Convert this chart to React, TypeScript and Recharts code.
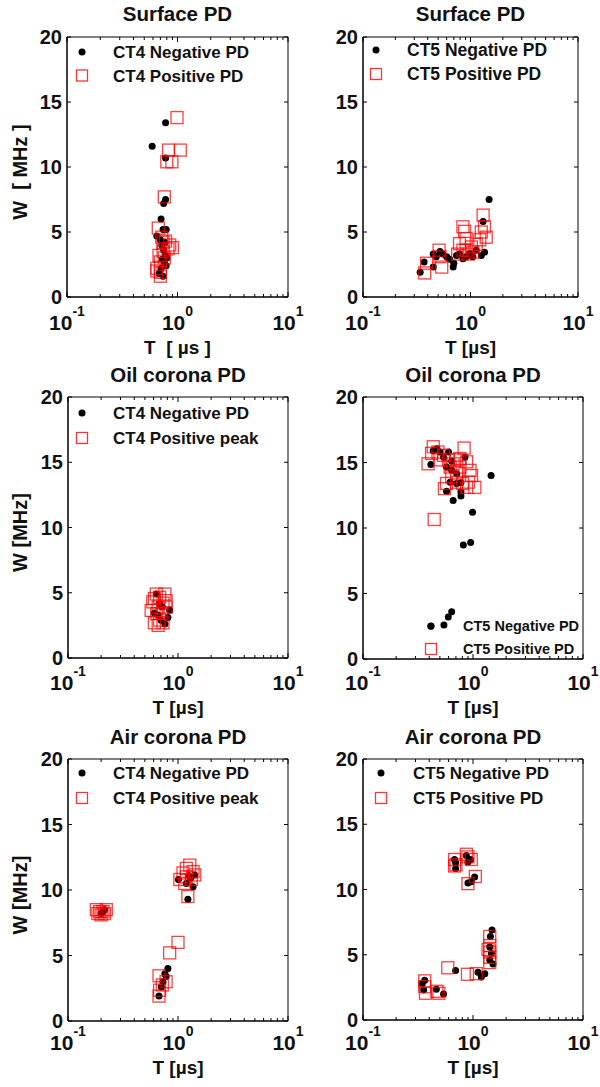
import React from 'react';
import { ScatterChart, Scatter, XAxis, YAxis, ReferenceArea, Legend } from 'recharts';

type Pt = { t: number; w: number };

// --- Surface PD ---
const ct4SurfaceNeg: Pt[] = [
  { t: 0.59, w: 11.6 }, { t: 0.78, w: 13.4 }, { t: 0.78, w: 10.7 }, { t: 0.78, w: 7.5 },
  { t: 0.75, w: 7.2 }, { t: 0.71, w: 6.0 }, { t: 0.74, w: 5.2 }, { t: 0.79, w: 5.2 },
  { t: 0.65, w: 4.7 }, { t: 0.7, w: 4.4 }, { t: 0.77, w: 4.2 }, { t: 0.72, w: 4.0 },
  { t: 0.75, w: 3.6 }, { t: 0.78, w: 3.2 }, { t: 0.8, w: 3.0 }, { t: 0.73, w: 2.9 },
  { t: 0.76, w: 2.6 }, { t: 0.79, w: 2.4 }, { t: 0.71, w: 2.2 }, { t: 0.68, w: 1.8 },
  { t: 0.74, w: 1.6 },
];
const ct4SurfacePos: Pt[] = [
  { t: 0.99, w: 13.8 }, { t: 0.83, w: 11.3 }, { t: 1.06, w: 11.3 }, { t: 0.8, w: 10.4 },
  { t: 0.89, w: 10.4 }, { t: 0.76, w: 7.7 }, { t: 0.67, w: 5.3 }, { t: 0.72, w: 4.6 },
  { t: 0.74, w: 4.2 }, { t: 0.78, w: 4.3 }, { t: 0.85, w: 4.0 }, { t: 0.9, w: 3.8 },
  { t: 0.82, w: 3.7 }, { t: 0.74, w: 3.5 }, { t: 0.68, w: 3.2 }, { t: 0.76, w: 3.0 },
  { t: 0.7, w: 2.7 }, { t: 0.65, w: 2.2 }, { t: 0.65, w: 2.0 }, { t: 0.7, w: 1.9 },
  { t: 0.7, w: 1.6 },
];
const ct5SurfaceNeg: Pt[] = [
  { t: 0.34, w: 1.9 }, { t: 0.37, w: 2.7 }, { t: 0.45, w: 2.3 }, { t: 0.45, w: 3.3 },
  { t: 0.48, w: 3.1 }, { t: 0.52, w: 3.5 }, { t: 0.55, w: 3.3 }, { t: 0.6, w: 3.1 },
  { t: 0.64, w: 2.9 }, { t: 0.69, w: 2.3 }, { t: 0.7, w: 2.6 }, { t: 0.74, w: 3.2 },
  { t: 0.79, w: 3.3 }, { t: 0.85, w: 2.95 }, { t: 0.91, w: 3.1 }, { t: 0.98, w: 3.35 },
  { t: 1.05, w: 3.1 }, { t: 1.13, w: 3.6 }, { t: 1.26, w: 3.2 }, { t: 1.35, w: 3.45 },
  { t: 1.31, w: 5.8 }, { t: 1.49, w: 7.5 },
];
const ct5SurfacePos: Pt[] = [
  { t: 0.375, w: 1.85 }, { t: 0.39, w: 2.6 }, { t: 0.51, w: 3.6 }, { t: 0.52, w: 3.1 },
  { t: 0.54, w: 2.3 }, { t: 0.76, w: 3.3 }, { t: 0.79, w: 4.1 }, { t: 0.85, w: 5.4 },
  { t: 0.88, w: 5.05 }, { t: 0.85, w: 3.6 }, { t: 0.91, w: 4.5 }, { t: 0.91, w: 3.6 },
  { t: 0.95, w: 3.3 }, { t: 1.02, w: 3.85 }, { t: 1.05, w: 3.45 }, { t: 1.13, w: 4.05 },
  { t: 1.22, w: 4.4 }, { t: 1.26, w: 5.0 }, { t: 1.35, w: 5.4 }, { t: 1.4, w: 4.6 },
  { t: 1.31, w: 6.3 },
];

// --- Oil corona PD ---
const ct4OilNeg: Pt[] = [
  { t: 0.81, w: 3.1 }, { t: 0.84, w: 3.65 }, { t: 0.66, w: 3.3 }, { t: 0.68, w: 4.15 },
  { t: 0.635, w: 4.9 }, { t: 0.61, w: 3.45 }, { t: 0.76, w: 2.6 }, { t: 0.72, w: 3.9 },
  { t: 0.7, w: 2.9 },
];
const ct4OilPos: Pt[] = [
  { t: 0.635, w: 4.9 }, { t: 0.68, w: 4.65 }, { t: 0.59, w: 4.3 }, { t: 0.57, w: 3.65 },
  { t: 0.73, w: 4.2 }, { t: 0.78, w: 3.9 }, { t: 0.64, w: 3.4 }, { t: 0.68, w: 2.9 },
  { t: 0.66, w: 2.5 }, { t: 0.61, w: 2.7 }, { t: 0.73, w: 2.7 }, { t: 0.71, w: 3.4 },
  { t: 0.66, w: 3.9 }, { t: 0.61, w: 4.55 }, { t: 0.76, w: 4.9 }, { t: 0.78, w: 4.4 },
];
const ct5OilNeg: Pt[] = [
  { t: 0.414, w: 2.5 }, { t: 0.544, w: 2.6 }, { t: 0.596, w: 3.2 }, { t: 0.64, w: 3.6 },
  { t: 0.817, w: 8.7 }, { t: 0.952, w: 8.9 }, { t: 0.99, w: 11.2 }, { t: 0.66, w: 12.1 },
  { t: 1.46, w: 14.0 }, { t: 0.414, w: 14.85 }, { t: 0.575, w: 12.8 }, { t: 0.777, w: 12.45 },
  { t: 0.777, w: 12.75 }, { t: 0.777, w: 13.45 }, { t: 0.435, w: 15.9 }, { t: 0.47, w: 16.05 },
  { t: 0.5, w: 15.8 }, { t: 0.6, w: 15.8 }, { t: 0.54, w: 15.4 }, { t: 0.575, w: 14.65 },
  { t: 0.64, w: 14.4 }, { t: 0.71, w: 14.15 }, { t: 0.845, w: 15.4 }, { t: 0.64, w: 15.1 },
  { t: 0.71, w: 13.4 }, { t: 0.62, w: 13.5 },
];
const ct5OilPos: Pt[] = [
  { t: 0.444, w: 10.65 }, { t: 0.39, w: 14.9 }, { t: 0.42, w: 15.7 }, { t: 0.435, w: 16.2 },
  { t: 0.48, w: 15.8 }, { t: 0.54, w: 15.55 }, { t: 0.6, w: 15.2 }, { t: 0.62, w: 14.65 },
  { t: 0.66, w: 14.9 }, { t: 0.71, w: 15.2 }, { t: 0.83, w: 16.1 }, { t: 0.76, w: 14.65 },
  { t: 0.875, w: 15.05 }, { t: 0.94, w: 14.4 }, { t: 0.97, w: 14.0 }, { t: 0.91, w: 13.5 },
  { t: 1.04, w: 13.1 }, { t: 0.875, w: 13.1 }, { t: 0.71, w: 13.5 }, { t: 0.575, w: 13.4 },
  { t: 0.55, w: 13.0 }, { t: 0.64, w: 13.9 }, { t: 0.76, w: 15.3 }, { t: 0.5, w: 15.2 },
  { t: 0.71, w: 14.2 }, { t: 0.8, w: 13.4 },
];

// --- Air corona PD ---
const ct4AirNeg: Pt[] = [
  { t: 0.208, w: 8.35 }, { t: 0.215, w: 8.5 }, { t: 0.2, w: 8.2 }, { t: 0.672, w: 1.9 },
  { t: 0.706, w: 2.6 }, { t: 0.73, w: 3.0 }, { t: 0.76, w: 3.6 }, { t: 0.78, w: 3.4 },
  { t: 0.81, w: 4.0 }, { t: 1.01, w: 10.8 }, { t: 1.19, w: 10.5 }, { t: 1.23, w: 9.3 },
  { t: 1.3, w: 10.9 }, { t: 1.37, w: 10.25 }, { t: 1.42, w: 11.15 }, { t: 1.25, w: 11.1 },
];
const ct4AirPos: Pt[] = [
  { t: 0.181, w: 8.5 }, { t: 0.194, w: 8.35 }, { t: 0.208, w: 8.35 }, { t: 0.223, w: 8.5 },
  { t: 0.2, w: 8.1 }, { t: 0.215, w: 8.2 }, { t: 0.187, w: 8.2 }, { t: 0.672, w: 1.9 },
  { t: 0.68, w: 2.35 }, { t: 0.72, w: 2.75 }, { t: 0.78, w: 3.0 }, { t: 0.672, w: 3.45 },
  { t: 0.84, w: 5.2 }, { t: 1.0, w: 6.0 }, { t: 1.04, w: 10.8 }, { t: 1.23, w: 9.5 },
  { t: 1.11, w: 11.3 }, { t: 1.28, w: 11.9 }, { t: 1.19, w: 11.65 }, { t: 1.32, w: 10.8 },
  { t: 1.42, w: 11.15 }, { t: 1.15, w: 10.5 }, { t: 1.37, w: 11.4 }, { t: 1.19, w: 11.0 },
];
const ct5AirNeg: Pt[] = [
  { t: 0.695, w: 12.05 }, { t: 0.695, w: 11.6 }, { t: 0.68, w: 12.3 }, { t: 0.87, w: 12.6 },
  { t: 0.95, w: 12.3 }, { t: 0.9, w: 12.1 }, { t: 0.9, w: 10.5 }, { t: 0.965, w: 10.6 },
  { t: 1.035, w: 10.95 }, { t: 0.346, w: 2.8 }, { t: 0.356, w: 2.3 }, { t: 0.364, w: 3.05 },
  { t: 0.464, w: 2.35 }, { t: 0.54, w: 2.0 }, { t: 0.695, w: 3.8 }, { t: 1.11, w: 3.65 },
  { t: 1.19, w: 3.3 }, { t: 1.28, w: 3.55 }, { t: 1.49, w: 6.9 }, { t: 1.44, w: 6.4 },
  { t: 1.42, w: 5.6 }, { t: 1.47, w: 5.1 }, { t: 1.42, w: 4.6 }, { t: 1.52, w: 4.3 },
];
const ct5AirPos: Pt[] = [
  { t: 0.364, w: 3.0 }, { t: 0.364, w: 2.55 }, { t: 0.37, w: 2.05 }, { t: 0.47, w: 2.2 },
  { t: 0.49, w: 2.05 }, { t: 0.59, w: 4.0 }, { t: 0.89, w: 3.5 }, { t: 1.07, w: 3.55 },
  { t: 0.68, w: 12.3 }, { t: 0.68, w: 11.8 }, { t: 0.7, w: 11.9 }, { t: 0.87, w: 12.7 },
  { t: 0.9, w: 12.5 }, { t: 0.965, w: 12.3 }, { t: 0.9, w: 10.45 }, { t: 1.05, w: 11.0 },
  { t: 1.42, w: 6.4 }, { t: 1.42, w: 5.7 }, { t: 1.42, w: 5.2 }, { t: 1.42, w: 4.8 },
  { t: 1.42, w: 4.4 }, { t: 1.37, w: 5.4 },
];

const xTicks = [
  0.1, 0.2, 0.3, 0.4, 0.5, 0.6, 0.7, 0.8, 0.9,
  1, 2, 3, 4, 5, 6, 7, 8, 9, 10,
];
const yTicks = [0, 5, 10, 15, 20];

const FONT = '"Liberation Sans", Arial, Helvetica, sans-serif';
const H = 367;
const X_AXIS_H = 40;

const panels = [
  {
    left: 0, top: 0, l: 67, r: 288, t: 37, b: 297, titleY: 21,
    title: 'Surface PD', xLabel: 'T  [ \u00b5s ]', yLabel: 'W  [ MHz ]',
    neg: ct4SurfaceNeg, pos: ct4SurfacePos,
    negName: 'CT4 Negative PD', posName: 'CT4 Positive PD',
    lg: { mx: 82, my: 52, gap: 23.5, tx: 113, size: 17 },
  },
  {
    left: 300, top: 0, l: 63, r: 278, t: 37, b: 297, titleY: 21,
    title: 'Surface PD', xLabel: 'T [\u00b5s]', yLabel: '',
    neg: ct5SurfaceNeg, pos: ct5SurfacePos,
    negName: 'CT5 Negative PD', posName: 'CT5 Positive PD',
    lg: { mx: 76, my: 50, gap: 24, tx: 107, size: 17.5 },
  },
  {
    left: 0, top: 360, l: 68, r: 288, t: 37, b: 298, titleY: 22,
    title: 'Oil corona PD', xLabel: 'T [\u00b5s]', yLabel: 'W [MHz]',
    neg: ct4OilNeg, pos: ct4OilPos,
    negName: 'CT4 Negative PD', posName: 'CT4 Positive peak',
    lg: { mx: 82, my: 53, gap: 25, tx: 113, size: 17 },
  },
  {
    left: 300, top: 360, l: 63, r: 283, t: 37, b: 299, titleY: 22,
    title: 'Oil corona PD', xLabel: 'T [\u00b5s]', yLabel: '',
    neg: ct5OilNeg, pos: ct5OilPos,
    negName: 'CT5 Negative PD', posName: 'CT5 Positive PD',
    lg: { mx: 131, my: 266, gap: 23, tx: 163, size: 14.5 },
  },
  {
    left: 0, top: 720, l: 68, r: 288, t: 39, b: 301, titleY: 24,
    title: 'Air corona PD', xLabel: 'T [\u00b5s]', yLabel: 'W [MHz]',
    neg: ct4AirNeg, pos: ct4AirPos,
    negName: 'CT4 Negative PD', posName: 'CT4 Positive peak',
    lg: { mx: 82, my: 53, gap: 25, tx: 113, size: 17 },
  },
  {
    left: 300, top: 720, l: 63, r: 283, t: 39, b: 300, titleY: 24,
    title: 'Air corona PD', xLabel: 'T [\u00b5s]', yLabel: '',
    neg: ct5AirNeg, pos: ct5AirPos,
    negName: 'CT5 Negative PD', posName: 'CT5 Positive PD',
    lg: { mx: 81, my: 53, gap: 25, tx: 113, size: 17 },
  },
];

type PanelDef = (typeof panels)[number];

const RED = '#ff0000';

const renderDot = (props: any) => (
  <circle cx={props.cx} cy={props.cy} r={3.5} fill="#000" />
);

const renderSquare = (props: any) => (
  <rect
    x={props.cx - 6}
    y={props.cy - 6}
    width={12}
    height={12}
    fill="none"
    stroke={RED}
    strokeOpacity={0.75}
    strokeWidth={1.3}
  />
);

const isDecade = (v: number) => Math.abs(Math.log10(v) - Math.round(Math.log10(v))) < 1e-6;

const Panel: React.FC<{ p: PanelDef }> = ({ p }) => {
  // ticks point inward on all four sides, like the original
  const xTick = (props: any) => {
    const { x, payload } = props;
    const v = payload.value as number;
    const major = isDecade(v);
    const len = major ? 5 : 3;
    return (
      <g>
        <line x1={x} x2={x} y1={p.b} y2={p.b - len} stroke="#000" />
        <line x1={x} x2={x} y1={p.t} y2={p.t + len} stroke="#000" />
        {major && (
          <text x={x} y={330} textAnchor="middle" fontFamily={FONT} fontWeight="bold" fontSize={21} fill="#111">
            10
            <tspan dy={-14} fontSize={14}>{Math.round(Math.log10(v))}</tspan>
          </text>
        )}
      </g>
    );
  };

  const yTick = (props: any) => {
    const { y, payload } = props;
    return (
      <g>
        <line x1={p.l} x2={p.l + 4} y1={y} y2={y} stroke="#000" />
        <line x1={p.r} x2={p.r - 4} y1={y} y2={y} stroke="#000" />
        <text x={p.l - 5} y={y + 7} textAnchor="end" fontFamily={FONT} fontWeight="bold" fontSize={20} fill="#111">
          {payload.value}
        </text>
      </g>
    );
  };

  const legendContent = () => (
    <svg width={300} height={H} style={{ position: 'absolute', left: 0, top: 0 }}>
      <circle cx={p.lg.mx} cy={p.lg.my} r={3.5} fill="#000" />
      <text x={p.lg.tx} y={p.lg.my + p.lg.size * 0.36} fontFamily={FONT} fontWeight="bold" fontSize={p.lg.size} fill="#111">
        {p.negName}
      </text>
      <rect x={p.lg.mx - 5.5} y={p.lg.my + p.lg.gap - 5.5} width={11} height={11} fill="none" stroke={RED} strokeWidth={1.3} strokeOpacity={0.8} />
      <text x={p.lg.tx} y={p.lg.my + p.lg.gap + p.lg.size * 0.36} fontFamily={FONT} fontWeight="bold" fontSize={p.lg.size} fill="#111">
        {p.posName}
      </text>
    </svg>
  );

  const cx = (p.l + p.r) / 2;

  return (
    <div style={{ position: 'absolute', left: p.left, top: p.top, width: 300, height: H }}>
      <ScatterChart
        width={300}
        height={H}
        margin={{ top: p.t, right: 300 - p.r, bottom: H - p.b - X_AXIS_H, left: 0 }}
      >
        <XAxis
          dataKey="t"
          type="number"
          scale="log"
          domain={[0.1, 10]}
          ticks={xTicks}
          interval={0}
          allowDataOverflow
          height={X_AXIS_H}
          tickLine={false}
          axisLine={{ stroke: '#000' }}
          tick={xTick}
        />
        <YAxis
          dataKey="w"
          type="number"
          domain={[0, 20]}
          ticks={yTicks}
          interval={0}
          allowDataOverflow
          width={p.l}
          tickLine={false}
          axisLine={{ stroke: '#000' }}
          tick={yTick}
        />
        <ReferenceArea x1={0.1} x2={10} y1={0} y2={20} fill="none" stroke="#000" strokeWidth={1} ifOverflow="visible" />
        <Scatter name={p.negName} data={p.neg} shape={renderDot} isAnimationActive={false} />
        <Scatter name={p.posName} data={p.pos} shape={renderSquare} isAnimationActive={false} />
        <Legend
          layout="vertical"
          align="center"
          verticalAlign="middle"
          wrapperStyle={{ left: 0, top: 0, width: 300, height: H, pointerEvents: 'none' }}
          content={legendContent}
        />
      </ScatterChart>
      <svg width={300} height={H} style={{ position: 'absolute', left: 0, top: 0, pointerEvents: 'none' }}>
        <text x={cx} y={p.titleY} textAnchor="middle" fontFamily={FONT} fontWeight="bold" fontSize={20.5} fill="#111">
          {p.title}
        </text>
        <text x={cx} y={354} textAnchor="middle" fontFamily={FONT} fontWeight="bold" fontSize={19} fill="#111" xmlSpace="preserve">
          {p.xLabel}
        </text>
        {p.yLabel && (
          <text
            transform={`translate(27, ${(p.t + p.b) / 2 + 5}) rotate(-90)`}
            textAnchor="middle"
            fontFamily={FONT}
            fontWeight="bold"
            fontSize={20}
            fill="#111"
            xmlSpace="preserve"
          >
            {p.yLabel}
          </text>
        )}
      </svg>
    </div>
  );
};

const App: React.FC = () => (
  <div style={{ position: 'absolute', left: 0, top: 0, width: 600, height: 1087, background: '#fff' }}>
    {/* let the 10^1 tick labels run past the 300px chart edge instead of being clipped */}
    <style>{'.recharts-surface { overflow: visible; } .recharts-wrapper { overflow: visible; }'}</style>
    {panels.map((p, i) => (
      <Panel key={i} p={p} />
    ))}
  </div>
);

export default App;
